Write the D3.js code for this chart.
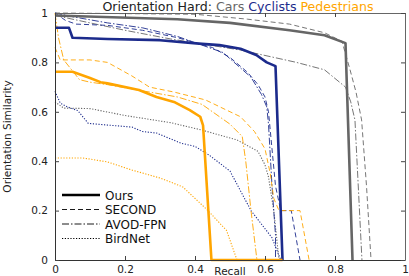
<!DOCTYPE html>
<html>
<head>
<meta charset="utf-8">
<script src="https://cdn.jsdelivr.net/npm/d3@7"></script>
<style>
  body { margin: 0; background: #fff; }
  svg { display: block; font-family: "DejaVu Sans", sans-serif; }
</style>
</head>
<body>
<svg id="chart" width="409" height="276"></svg>
<script>
// recall / orientation similarity pairs
const carsOurs = [[0,0.99],[0.35,0.975],[0.5,0.96],[0.67,0.93],[0.77,0.91],[0.83,0.878],[0.85,0]];
const carsSecond = [[0,1],[0.4,0.995],[0.55,0.975],[0.67,0.955],[0.77,0.92],[0.82,0.885],[0.843,0.77],[0.86,0.68],[0.876,0.567],[0.89,0.3],[0.903,0]];
const carsAvod = [[0,0.99],[0.1,0.96],[0.2,0.93],[0.33,0.895],[0.53,0.85],[0.69,0.8],[0.77,0.77],[0.83,0.7],[0.845,0.64],[0.857,0.567],[0.877,0]];
const carsBirdnet = [[0,0.64],[0.025,0.615],[0.1,0.613],[0.2,0.585],[0.33,0.556],[0.42,0.526],[0.52,0.486],[0.58,0.44],[0.6,0.385],[0.61,0.336],[0.625,0.2],[0.64,0]];

const cycOurs = [[0,0.94],[0.04,0.94],[0.05,0.9],[0.15,0.895],[0.3,0.89],[0.42,0.875],[0.47,0.87],[0.53,0.855],[0.575,0.83],[0.605,0.8],[0.63,0.785],[0.65,0]];
const cycSecond = [[0,1],[0.03,0.97],[0.06,0.955],[0.15,0.95],[0.25,0.93],[0.35,0.9],[0.45,0.86],[0.5,0.82],[0.55,0.76],[0.58,0.71],[0.6,0.66],[0.61,0.6],[0.62,0.45],[0.63,0.3],[0.645,0.2],[0.675,0.2],[0.7,0]];
const cycAvod = [[0,1],[0.05,0.985],[0.15,0.96],[0.25,0.94],[0.35,0.905],[0.42,0.87],[0.48,0.84],[0.52,0.79],[0.56,0.74],[0.59,0.67],[0.605,0.62],[0.61,0.55],[0.62,0.3],[0.63,0.1],[0.63,0]];
const cycBirdnet = [[0,0.683],[0.015,0.635],[0.035,0.62],[0.065,0.605],[0.095,0.553],[0.22,0.538],[0.25,0.52],[0.29,0.514],[0.36,0.473],[0.4,0.46],[0.44,0.425],[0.5,0.36],[0.56,0.2],[0.62,0.09],[0.645,0]];

const pedOurs = [[0,0.762],[0.05,0.762],[0.1,0.737],[0.13,0.72],[0.15,0.715],[0.24,0.688],[0.29,0.66],[0.34,0.64],[0.385,0.607],[0.415,0.58],[0.423,0.545],[0.447,0],[0.65,0]];
const pedSecond = [[0,0.86],[0.015,0.81],[0.1,0.81],[0.15,0.8],[0.22,0.745],[0.27,0.7],[0.34,0.68],[0.43,0.648],[0.49,0.607],[0.53,0.58],[0.57,0.52],[0.6,0.45],[0.615,0.35],[0.625,0.25],[0.64,0.2],[0.7,0.2],[0.726,0]];
const pedAvod = [[0,1],[0.01,0.9],[0.025,0.81],[0.07,0.73],[0.1,0.72],[0.15,0.71],[0.25,0.685],[0.35,0.66],[0.42,0.63],[0.5,0.55],[0.535,0.5],[0.545,0.4],[0.56,0.2],[0.577,0]];
const pedBirdnet = [[0,0.413],[0.08,0.413],[0.15,0.397],[0.22,0.364],[0.3,0.332],[0.365,0.296],[0.437,0.2],[0.49,0.12],[0.52,0]];

const classes = ["Cars", "Cyclists", "Pedestrians"];
const methods = ["Ours", "SECOND", "AVOD-FPN", "BirdNet"];
const ticks = [0, 0.2, 0.4, 0.6, 0.8, 1];

const colors = { Cars: "#666666", Cyclists: "#1c2b8c", Pedestrians: "#ffa500" };
const dash = { "Ours": null, "SECOND": "5,3", "AVOD-FPN": "7,2,1.5,2", "BirdNet": "1.2,1.6" };
const widths = { "Ours": 2.6, "SECOND": 0.9, "AVOD-FPN": 0.9, "BirdNet": 1.1 };

const curves = [
  { cls: "Cars", method: "BirdNet", data: carsBirdnet },
  { cls: "Cars", method: "AVOD-FPN", data: carsAvod },
  { cls: "Cars", method: "SECOND", data: carsSecond },
  { cls: "Cyclists", method: "BirdNet", data: cycBirdnet },
  { cls: "Cyclists", method: "AVOD-FPN", data: cycAvod },
  { cls: "Cyclists", method: "SECOND", data: cycSecond },
  { cls: "Pedestrians", method: "BirdNet", data: pedBirdnet },
  { cls: "Pedestrians", method: "AVOD-FPN", data: pedAvod },
  { cls: "Pedestrians", method: "SECOND", data: pedSecond },
  { cls: "Cars", method: "Ours", data: carsOurs },
  { cls: "Cyclists", method: "Ours", data: cycOurs },
  { cls: "Pedestrians", method: "Ours", data: pedOurs }
];

const svg = d3.select("#chart");
const x = d3.scaleLinear().domain([0, 1]).range([55, 405]);
const y = d3.scaleLinear().domain([0, 1]).range([260, 13]);

const line = d3.line().x(d => x(d[0])).y(d => y(d[1]));

svg.append("g")
  .selectAll("path")
  .data(curves)
  .enter()
  .append("path")
  .attr("d", d => line(d.data))
  .attr("fill", "none")
  .attr("stroke", d => colors[d.cls])
  .attr("stroke-width", d => widths[d.method])
  .attr("stroke-dasharray", d => dash[d.method])
  .attr("stroke-linejoin", "round");

// axes, ticks pointing inward on all four sides
const fmt = d => (d === 0 || d === 1 ? String(d) : d.toFixed(1));
svg.append("g")
  .attr("transform", `translate(0,${y(0)})`)
  .call(d3.axisBottom(x).tickValues(ticks).tickFormat(fmt).tickSizeInner(-4).tickSizeOuter(0).tickPadding(6))
  .call(g => g.select(".domain").attr("stroke", "#333"));
svg.append("g")
  .attr("transform", `translate(${x(0)},0)`)
  .call(d3.axisLeft(y).tickValues(ticks).tickFormat(fmt).tickSizeInner(-4).tickSizeOuter(0).tickPadding(7))
  .call(g => g.select(".domain").attr("stroke", "#333"));
svg.append("g")
  .attr("transform", `translate(0,${y(1)})`)
  .call(d3.axisTop(x).tickValues(ticks).tickFormat("").tickSizeInner(-4).tickSizeOuter(0))
  .call(g => g.select(".domain").attr("stroke", "#666"));
svg.append("g")
  .attr("transform", `translate(${x(1)},0)`)
  .call(d3.axisRight(y).tickValues(ticks).tickFormat("").tickSizeInner(-4).tickSizeOuter(0))
  .call(g => g.select(".domain").attr("stroke", "#666"));

svg.selectAll(".tick text").attr("font-size", 10.5).attr("fill", "#222").attr("font-family", "DejaVu Sans, sans-serif");
svg.selectAll(".tick line").attr("stroke", "#444");

// axis labels
svg.append("text")
  .attr("x", 230).attr("y", 275)
  .attr("text-anchor", "middle")
  .attr("font-size", 10.5)
  .attr("fill", "#222")
  .text("Recall");
svg.append("text")
  .attr("transform", `translate(11,${(y(0) + y(1)) / 2}) rotate(-90)`)
  .attr("text-anchor", "middle")
  .attr("font-size", 10.5)
  .attr("fill", "#222")
  .text("Orientation Similarity");

// title
const title = svg.append("text")
  .attr("x", 238).attr("y", 10.5)
  .attr("text-anchor", "middle")
  .attr("font-size", 12.6);
title.append("tspan").attr("fill", "#222").text("Orientation Hard: ");
classes.forEach((c, i) => {
  title.append("tspan").attr("fill", colors[c]).text(c + (i < classes.length - 1 ? " " : ""));
});

// legend
const legend = svg.append("g")
  .selectAll("g")
  .data(methods)
  .enter()
  .append("g")
  .attr("transform", (d, i) => `translate(62,${195 + i * 14.5})`);
legend.append("line")
  .attr("x1", 0).attr("x2", 38)
  .attr("stroke", "#000")
  .attr("stroke-width", d => widths[d])
  .attr("stroke-dasharray", d => dash[d]);
legend.append("text")
  .attr("x", 43).attr("y", 4.5)
  .attr("font-size", 12)
  .attr("fill", "#111")
  .text(d => d);
</script>
</body>
</html>
